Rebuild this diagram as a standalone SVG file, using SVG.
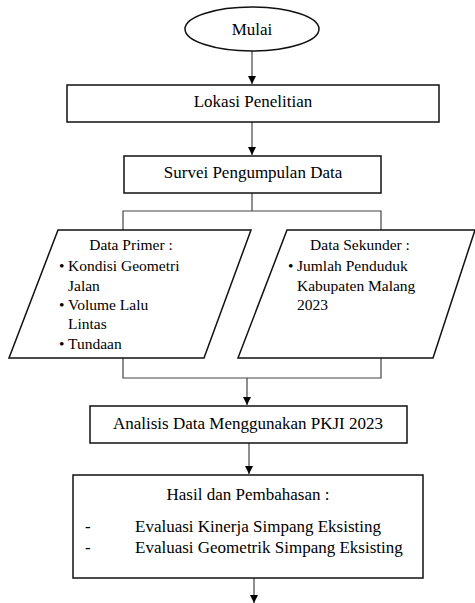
<svg xmlns="http://www.w3.org/2000/svg" width="475" height="603" viewBox="0 0 475 603">
<defs>
<marker id="ah" markerWidth="9" markerHeight="8" refX="8" refY="4" orient="auto" markerUnits="userSpaceOnUse">
<path d="M0,0 L8,4 L0,8 Z" fill="#000"/>
</marker>
<style>
.box{fill:#fff;stroke:#111;stroke-width:1.5}
.con{fill:none;stroke:#444;stroke-width:1.2}
.t{font-family:"Liberation Serif","Times New Roman",serif;font-size:17px;fill:#000}
.s{font-size:15.5px}
.c{text-anchor:middle}
</style>
</defs>
<rect width="475" height="603" fill="#fff"/>
<g id="connectors">
<line class="con" x1="252" y1="51" x2="252" y2="84" marker-end="url(#ah)"/>
<line class="con" x1="252" y1="122" x2="252" y2="155" marker-end="url(#ah)"/>
<polyline class="con" points="252,193 252,211"/>
<polyline class="con" points="123,230 123,211 381,211 381,230"/>
<polyline class="con" points="123,358 123,378 381,378 381,358"/>
<line class="con" x1="247" y1="378" x2="247" y2="405" marker-end="url(#ah)"/>
<line class="con" x1="249" y1="443" x2="249" y2="474" marker-end="url(#ah)"/>
<line class="con" x1="254" y1="578" x2="254" y2="603" marker-end="url(#ah)"/>
</g>
<g id="mulai">
<ellipse class="box" cx="252" cy="29" rx="67" ry="22"/>
<text class="t c" x="252" y="35">Mulai</text>
</g>
<g id="lokasi">
<rect class="box" x="67" y="85" width="372" height="37"/>
<text class="t c" x="253" y="107">Lokasi Penelitian</text>
</g>
<g id="survei">
<rect class="box" x="124" y="156" width="257" height="37"/>
<text class="t c" x="253" y="178">Survei Pengumpulan Data</text>
</g>
<g id="primer">
<polygon class="box" points="58,230 251,230 204,358 9,358"/>
<text class="t s c" x="131" y="250">Data Primer :</text>
<text class="t s" x="59" y="271">•</text><text class="t s" x="68" y="271">Kondisi Geometri</text>
<text class="t s" x="68" y="291">Jalan</text>
<text class="t s" x="59" y="310">•</text><text class="t s" x="68" y="310">Volume Lalu</text>
<text class="t s" x="68" y="329">Lintas</text>
<text class="t s" x="59" y="349">•</text><text class="t s" x="68" y="349">Tundaan</text>
</g>
<g id="sekunder">
<polygon class="box" points="287,230 475,230 433,358 238,358"/>
<text class="t s c" x="360" y="250">Data Sekunder :</text>
<text class="t s" x="288" y="271">•</text><text class="t s" x="297" y="271">Jumlah Penduduk</text>
<text class="t s" x="297" y="291">Kabupaten Malang</text>
<text class="t s" x="297" y="310">2023</text>
</g>
<g id="analisis">
<rect class="box" x="90" y="406" width="317" height="37"/>
<text class="t c" x="248" y="429">Analisis Data Menggunakan PKJI 2023</text>
</g>
<g id="hasil">
<rect class="box" x="73" y="475" width="350" height="103"/>
<text class="t c" x="248" y="500">Hasil dan Pembahasan :</text>
<text class="t" x="85" y="532">-</text><text class="t" x="135" y="532">Evaluasi Kinerja Simpang Eksisting</text>
<text class="t" x="85" y="553">-</text><text class="t" x="135" y="553">Evaluasi Geometrik Simpang Eksisting</text>
</g>
</svg>
